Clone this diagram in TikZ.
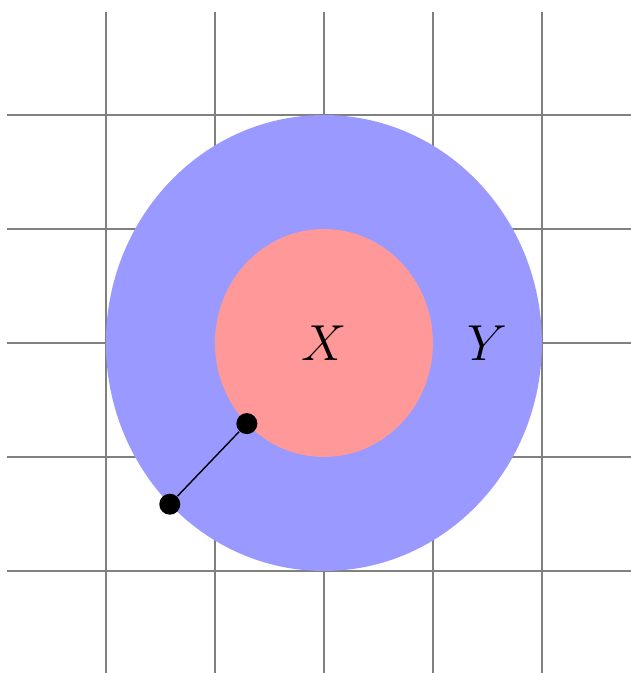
\documentclass[tikz,border=0pt]{standalone}
\begin{document}
\begin{tikzpicture}[x=1.09cm,y=1.14cm,
  gridline/.style={gray,line width=0.4pt},
  dot/.style={circle,fill=black,inner sep=0pt,minimum size=2.1mm},
  lbl/.style={font=\Large}]
\useasboundingbox (-2.972,-2.895) rectangle (2.817,3.009);
\foreach \i in {-2,...,2} {
  \draw[gridline] (\i,2.9) -- (\i,-3);
  \draw[gridline] (-2.91,\i) -- (3,\i);
}
\fill[blue!40] (0,0) ellipse [x radius=2,y radius=2];
\fill[red!40] (0,0) ellipse [x radius=1,y radius=1];
\node[lbl] (X) at (0,0) {$X$};
\node[lbl] (Y) at (1.5,0) {$Y$};
\node[dot] (a) at (225:1) {};
\node[dot] (b) at (225:2) {};
\draw[line width=0.4pt] (a) -- (b);
\end{tikzpicture}
\end{document}
